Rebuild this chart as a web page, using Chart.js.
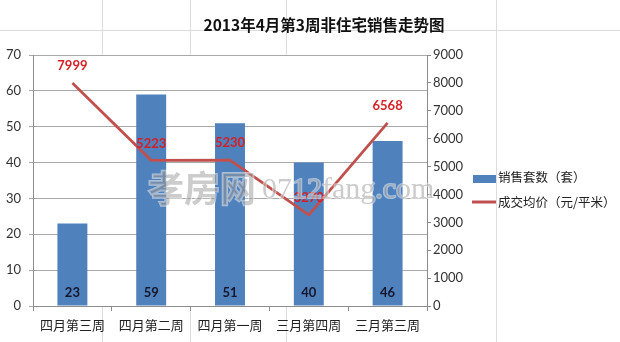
<!DOCTYPE html>
<html>
<head>
<meta charset="utf-8">
<script src="https://cdn.jsdelivr.net/npm/chart.js@4"></script>
<style>
  html, body { margin: 0; padding: 0; background: #fff; }
  #wrap { width: 620px; height: 342px; }
</style>
</head>
<body>
<div id="wrap"><canvas id="c" width="620" height="342"></canvas></div>
<script>
// Weekly non-residential sales: units sold (bars) and average price (line)
const categories = ['四月第三周', '四月第二周', '四月第一周', '三月第四周', '三月第三周'];
const unitsSold = [23, 59, 51, 40, 46];
const avgPrice = [7999, 5223, 5230, 3270, 6568];
const leftTicks = [0, 10, 20, 30, 40, 50, 60, 70];
const rightTicks = [0, 1000, 2000, 3000, 4000, 5000, 6000, 7000, 8000, 9000];

const titleText = '2013年4月第3周非住宅销售走势图';
const watermarkCn = '孝房网';
const watermarkEn = '0712fang.com';

const NUM_FONT = 'Lato, "Noto Sans CJK SC", sans-serif';
const CJK_FONT = '"Noto Sans CJK SC", sans-serif';

// Spreadsheet-style backdrop, title, watermark, value labels and legend
const decor = {
  id: 'decor',
  beforeDraw(chart) {
    const ctx = chart.ctx;
    const a = chart.chartArea;
    ctx.save();
    ctx.fillStyle = '#ffffff';
    ctx.fillRect(0, 0, chart.width, chart.height);
    // faint worksheet cell lines outside the plot
    ctx.strokeStyle = '#dcdcdc';
    ctx.lineWidth = 1;
    [102.5, 190.5, 286.5, 496.5].forEach(x => {
      ctx.beginPath(); ctx.moveTo(x, 0); ctx.lineTo(x, chart.height); ctx.stroke();
    });
    [30.5].forEach(y => {
      ctx.beginPath(); ctx.moveTo(0, y); ctx.lineTo(chart.width, y); ctx.stroke();
    });
    ctx.fillStyle = '#ffffff';
    ctx.fillRect(a.left, a.top, a.right - a.left, a.bottom - a.top);
    // title
    ctx.fillStyle = '#111';
    ctx.font = 'bold 15.5px ' + CJK_FONT;
    ctx.textAlign = 'center';
    ctx.textBaseline = 'middle';
    ctx.fillText(titleText, 324, 25);
    ctx.restore();
  },
  afterDatasetsDraw(chart) {
    const ctx = chart.ctx;
    ctx.save();
    // bar values at the foot of each bar
    const barMeta = chart.getDatasetMeta(0);
    ctx.font = 'bold 13px ' + NUM_FONT;
    ctx.fillStyle = '#15152a';
    ctx.textAlign = 'center';
    ctx.textBaseline = 'middle';
    barMeta.data.forEach((el, i) => {
      ctx.fillText(String(chart.data.datasets[0].data[i]), el.x, el.base - 13);
    });
    // price values above each line point
    const lineMeta = chart.getDatasetMeta(1);
    ctx.font = 'bold 13px ' + NUM_FONT;
    ctx.fillStyle = '#d41f26';
    lineMeta.data.forEach((el, i) => {
      ctx.fillText(String(chart.data.datasets[1].data[i]), el.x, el.y - 17);
    });
    // watermark
    ctx.globalAlpha = 0.5;
    ctx.lineWidth = 2;
    ctx.strokeStyle = '#ffffff';
    ctx.fillStyle = '#9a9a9a';
    ctx.textAlign = 'left';
    ctx.font = 'bold 36px ' + CJK_FONT;
    ctx.strokeText(watermarkCn, 148, 188);
    ctx.fillText(watermarkCn, 148, 188);
    ctx.font = '30px "Liberation Serif", "DejaVu Serif", serif';
    ctx.strokeText(watermarkEn, 262, 190);
    ctx.fillText(watermarkEn, 262, 190);
    ctx.globalAlpha = 1;
    // legend
    const ds = chart.data.datasets;
    ctx.font = '12.5px ' + CJK_FONT;
    ctx.fillStyle = ds[0].backgroundColor;
    ctx.fillRect(473, 175, 23, 8);
    ctx.fillStyle = '#222';
    ctx.fillText(ds[0].label, 498, 177);
    ctx.strokeStyle = ds[1].borderColor;
    ctx.lineWidth = 3;
    ctx.beginPath(); ctx.moveTo(472, 202); ctx.lineTo(496, 202); ctx.stroke();
    ctx.fillText(ds[1].label, 498, 202);
    ctx.restore();
  }
};

new Chart(document.getElementById('c'), {
  type: 'bar',
  data: {
    labels: categories,
    datasets: [
      {
        type: 'bar',
        label: '销售套数（套）',
        data: unitsSold,
        yAxisID: 'y',
        backgroundColor: '#4f81bd',
        borderWidth: 0,
        categoryPercentage: 1,
        barPercentage: 0.38,
        order: 2
      },
      {
        type: 'line',
        label: '成交均价（元/平米）',
        data: avgPrice,
        yAxisID: 'y1',
        borderColor: '#c0504d',
        borderWidth: 2.75,
        pointRadius: 0,
        tension: 0,
        fill: false,
        order: 1
      }
    ]
  },
  options: {
    responsive: false,
    animation: false,
    devicePixelRatio: 1,
    layout: { padding: { top: 55, left: 0, right: 0, bottom: 0 } },
    plugins: { legend: { display: false }, title: { display: false }, tooltip: { enabled: false } },
    scales: {
      x: {
        grid: { drawOnChartArea: false, tickLength: 5, color: '#8c8c8c', offset: true },
        border: { color: '#8c8c8c' },
        ticks: { font: { family: CJK_FONT, size: 13 }, color: '#222', padding: 6, maxRotation: 0 },
        afterFit(s) { s.height = 36; }
      },
      y: {
        position: 'left',
        min: 0, max: 70,
        afterBuildTicks(s) { s.ticks = leftTicks.map(v => ({ value: v })); },
        grid: { color: '#a9a9a9', tickLength: 4 },
        border: { color: '#8c8c8c' },
        ticks: { font: { family: NUM_FONT, size: 13 }, color: '#333', padding: 8, callback: v => String(v) },
        afterFit(s) { s.width = 33; }
      },
      y1: {
        position: 'right',
        min: 0, max: 9000,
        afterBuildTicks(s) { s.ticks = rightTicks.map(v => ({ value: v })); },
        grid: { drawOnChartArea: false, tickLength: 4, color: '#8c8c8c' },
        border: { color: '#8c8c8c' },
        ticks: { font: { family: NUM_FONT, size: 13 }, color: '#333', padding: 2, callback: v => String(v) },
        afterFit(s) { s.width = 193; }
      }
    }
  },
  plugins: [decor]
});
</script>
</body>
</html>
